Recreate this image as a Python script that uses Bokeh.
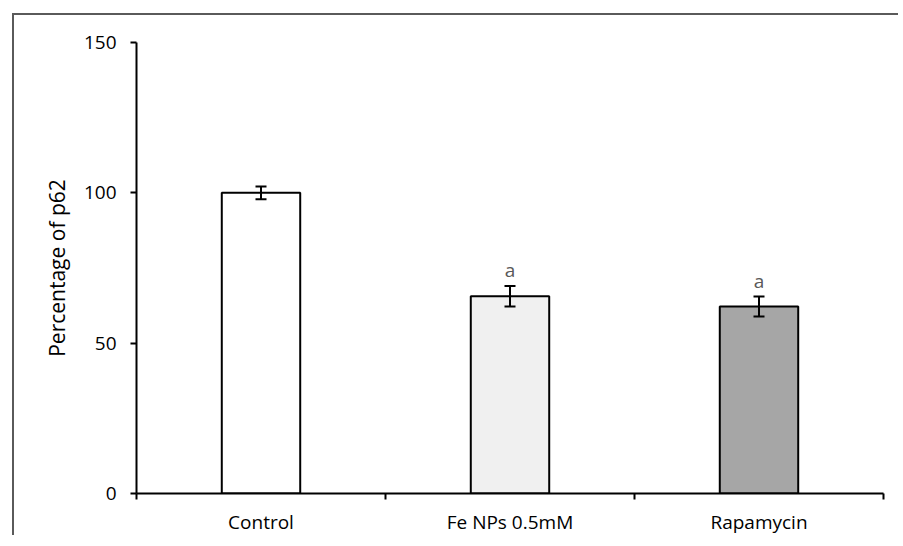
from bokeh.plotting import figure
from bokeh.models import ColumnDataSource, Range1d, FixedTicker, Whisker, TeeHead, CustomJSTickFormatter
from bokeh.core.properties import value
from bokeh.embed import file_html
from bokeh.resources import INLINE

categories = ["Control", "Fe NPs 0.5mM", "Rapamycin"]
means = [100.0, 65.6, 62.2]
errors = [2.1, 3.4, 3.3]
letters = ["", "a", "a"]
colors = ["#ffffff", "#f0f0f0", "#a6a6a6"]
y_ticks = [0, 50, 100, 150]

xs = [i + 0.5 for i in range(len(categories))]
bounds = list(range(len(categories) + 1))
src = ColumnDataSource(dict(
    x=xs, top=means, color=colors,
    lower=[m - e for m, e in zip(means, errors)],
    upper=[m + e for m, e in zip(means, errors)],
    letter=letters,
))

FONT = "Open Sans"

p = figure(width=886, height=522, output_backend="svg", toolbar_location=None,
           x_range=Range1d(0, len(categories)), y_range=Range1d(0, 150),
           min_border_left=122, min_border_right=17, min_border_top=27, min_border_bottom=43)
p.styles = {"border-left": "2px solid #5a5a5a", "border-top": "2px solid #5a5a5a",
            "margin-left": "12px", "margin-top": "13px"}
p.outline_line_color = None
p.grid.grid_line_color = None

p.vbar(x="x", top="top", width=0.315, bottom=0, fill_color="color",
       line_color="black", line_width=2, source=src)

w = Whisker(base="x", lower="lower", upper="upper", source=src,
            line_color="black", line_width=2, level="overlay",
            upper_head=TeeHead(size=11, line_color="black", line_width=2),
            lower_head=TeeHead(size=11, line_color="black", line_width=2))
p.add_layout(w)

p.text(x="x", y="upper", text="letter", source=src, text_align="center",
       text_baseline="bottom", y_offset=-3, text_font=value(FONT),
       text_font_size="19px", text_color="#595959")

# y axis
ya = p.yaxis[0]
ya.ticker = FixedTicker(ticks=y_ticks)
ya.minor_tick_line_color = None
ya.major_tick_in = 0
ya.major_tick_out = 6
ya.axis_line_width = 2
ya.major_tick_line_width = 2
ya.major_label_standoff = 14
ya.major_label_text_font = FONT
ya.major_label_text_font_size = "19px"
ya.major_label_text_color = "black"
ya.axis_label = "Percentage of p62"
ya.axis_label_text_font = FONT
ya.axis_label_text_font_size = "21px"
ya.axis_label_text_font_style = "normal"
ya.axis_label_text_color = "black"
ya.axis_label_standoff = 10

# x axis: labels at category centres, tick marks at category boundaries
cat_js = "const c = %s; const i = Math.round(tick - 0.5); return (i >= 0 && i < c.length) ? c[i] : '';" % str(categories)
xa = p.xaxis[0]
xa.ticker = FixedTicker(ticks=xs, minor_ticks=bounds)
xa.formatter = CustomJSTickFormatter(code=cat_js)
xa.axis_line_width = 2
xa.major_tick_line_color = None
xa.major_tick_in = 0
xa.major_tick_out = 0
xa.minor_tick_in = 0
xa.minor_tick_out = 6
xa.minor_tick_line_width = 2
xa.minor_tick_line_color = "black"
xa.major_label_standoff = 9
xa.major_label_text_font = FONT
xa.major_label_text_font_size = "19px"
xa.major_label_text_color = "black"

open("out.html", "w").write(file_html(p, INLINE))
